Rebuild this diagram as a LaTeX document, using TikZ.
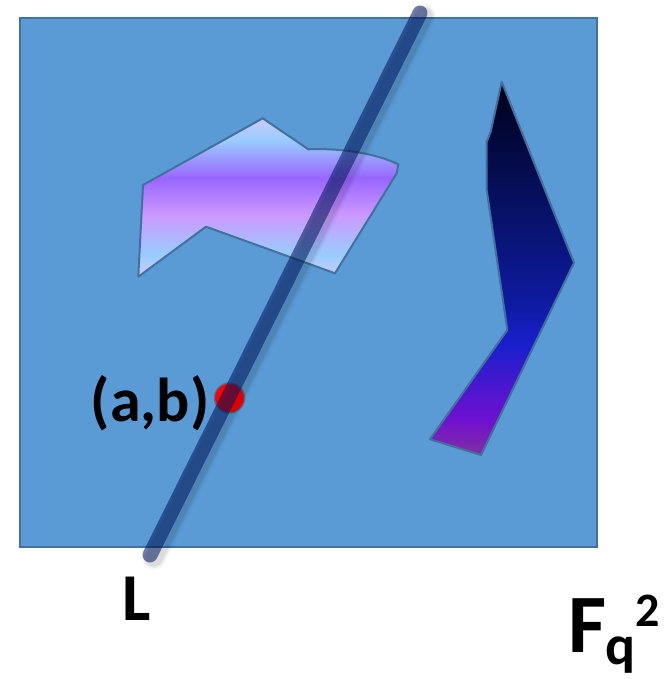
\documentclass[tikz,border=0pt]{standalone}
\usepackage{fontspec}
\setmainfont{Carlito}
\definecolor{bgblue}{HTML}{5B9BD5}
\definecolor{edgeblue}{HTML}{41719C}
\definecolor{lineC}{HTML}{001860}
\definecolor{pA}{HTML}{CCCCFF}
\definecolor{pB}{HTML}{99CCFF}
\definecolor{pC}{HTML}{CC99FF}
\definecolor{pD}{HTML}{9966FF}
\definecolor{dA}{HTML}{000018}
\definecolor{dB}{HTML}{061060}
\definecolor{dC}{HTML}{0E1A9E}
\definecolor{dD}{HTML}{1A1FCC}
\definecolor{dE}{HTML}{7010D0}
\definecolor{dF}{HTML}{8030A0}
\pgfdeclareverticalshading{polyshade}{100bp}{color(0bp)=(pA); color(25bp)=(pA); color(32bp)=(pB); color(44.5bp)=(pC); color(56.1bp)=(pD); color(68.1bp)=(pB); color(75bp)=(pA); color(100bp)=(pA)}
\pgfdeclareverticalshading{darkshade}{100bp}{color(0bp)=(dF); color(25bp)=(dF); color(29.7bp)=(dE); color(39.7bp)=(dD); color(45.8bp)=(dC); color(59.2bp)=(dB); color(75bp)=(dA); color(100bp)=(dA)}
\tikzset{
  shapeedge/.style={draw=edgeblue, line width=2pt, line join=round},
  bigtext/.style={inner sep=0pt, font=\bfseries\fontsize{#1}{#1}\selectfont, text=black},
}
\begin{document}
\begin{tikzpicture}[x=1pt,y=-1pt]
\useasboundingbox (0,0) rectangle (669,679);
% field
\path[fill=bgblue, draw=edgeblue, line width=1.5pt] (20,18) rectangle (597,547);
% light polygon
\shadedraw[shading=polyshade, shapeedge]
  (143,185) -- (262.7,118.3) -- (308.3,149.3)
  .. controls (340,148) and (375,153) .. (398.3,164.3)
  -- (396.7,173.3) -- (335,273.3) -- (206,226.7) -- (138.3,276.7) -- cycle;
% dark shape
\shadedraw[shading=darkshade, shapeedge]
  (501.7,81.7) -- (490.7,131.7) -- (486.7,141.7) -- (486.7,190)
  -- (507.3,330) -- (430,439.3) -- (481,455) -- (574,262.7) -- cycle;
% point
\node[circle, minimum size=30pt, inner sep=0pt, fill=red, draw=edgeblue, draw opacity=0.8, line width=1.5pt] (pt) at (229.5,398) {};
% line L
\coordinate (lb) at (150,555);
\coordinate (lt) at (420,13);
\foreach \w/\o in {24/0.03,20/0.05,17/0.06}{
  \draw[line width=\w pt, line cap=round, black, opacity=\o] ([shift={(4,3)}]lb) -- ([shift={(4,3)}]lt);
}
\draw[line width=15pt, line cap=round, draw=lineC, draw opacity=0.55] (lb) -- (lt);
% labels
\node[bigtext=62, anchor=base] (ab) at (150,421) {(a,b)};
\node[bigtext=67, anchor=base west] (L) at (122,620) {L};
\node[bigtext=83, anchor=base west] (F) at (568,652) {F};
\node[bigtext=56, anchor=base west] (q) at (605,664) {q};
\node[bigtext=48, anchor=base west] (two) at (635,626) {2};
\end{tikzpicture}
\end{document}
